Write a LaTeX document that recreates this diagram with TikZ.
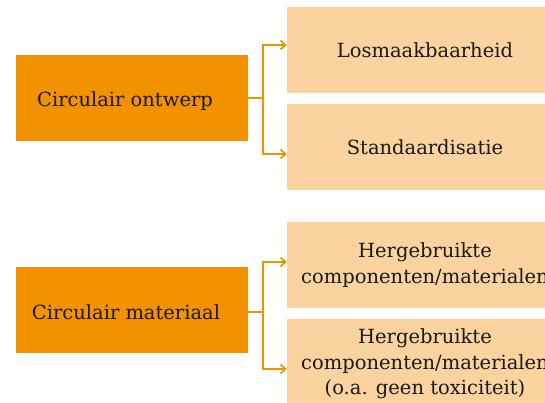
\documentclass[tikz,border=0pt]{standalone}
\usepackage{fontspec}
\setmainfont{DejaVu Serif}
\usetikzlibrary{arrows.meta}
\definecolor{darkor}{HTML}{F39200}
\definecolor{lightor}{HTML}{FBD39E}
\begin{document}
\begin{tikzpicture}[x=1pt,y=-1pt,
  mainbox/.style={fill=darkor,draw=none,inner sep=0pt},
  maintext/.style={font=\fontsize{19.5}{24}\selectfont,text=black!90,inner sep=0pt},
  subbox/.style={fill=lightor,draw=none,inner sep=0pt,align=center,font=\fontsize{19.5}{25.5}\selectfont,text=black!90},
  conn/.style={draw=darkor,line width=1.7pt,-{Straight Barb[length=5pt,width=9pt]}}]
\useasboundingbox (0,0) rectangle (545,403);
\clip (0,0) rectangle (545,403);
% top group
\node[mainbox,minimum width=232pt,minimum height=86pt] (m1) at (132,98) {};
\node[maintext] at (125,101) (t1) {Circulair ontwerp};
\node[subbox,minimum width=276pt,minimum height=86pt] (s1) at (425,50) {Losmaakbaarheid};
\node[subbox,minimum width=276pt,minimum height=86pt] (s2) at (425,147) {Standaardisatie};
\coordinate (j1) at (263,98);
\draw[darkor,line width=1.7pt] (m1.east) -- (j1);
\draw[conn] (j1) |- (s1.west |- 0,45);
\draw[conn] (j1) |- (s2.west |- 0,154);
% bottom group
\node[mainbox,minimum width=232pt,minimum height=86pt] (m2) at (132,310) {};
\node[maintext] at (126,312) (t2) {Circulair materiaal};
\node[subbox,minimum width=276pt,minimum height=86pt] (s3) at (425,265) {Hergebruikte\\componenten/materialen};
\node[subbox,minimum width=276pt,minimum height=100pt] (s4) at (425,369) {};
\node[subbox,fill=none] at (425,364) (s4t) {Hergebruikte\\componenten/materialen\\(o.a. geen toxiciteit)};
\coordinate (j2) at (263,312);
\draw[darkor,line width=1.7pt] (m2.east |- j2) -- (j2);
\draw[conn] (j2) |- (s3.west |- 0,262);
\draw[conn] (j2) |- (s4.west |- 0,369);
\end{tikzpicture}
\end{document}
